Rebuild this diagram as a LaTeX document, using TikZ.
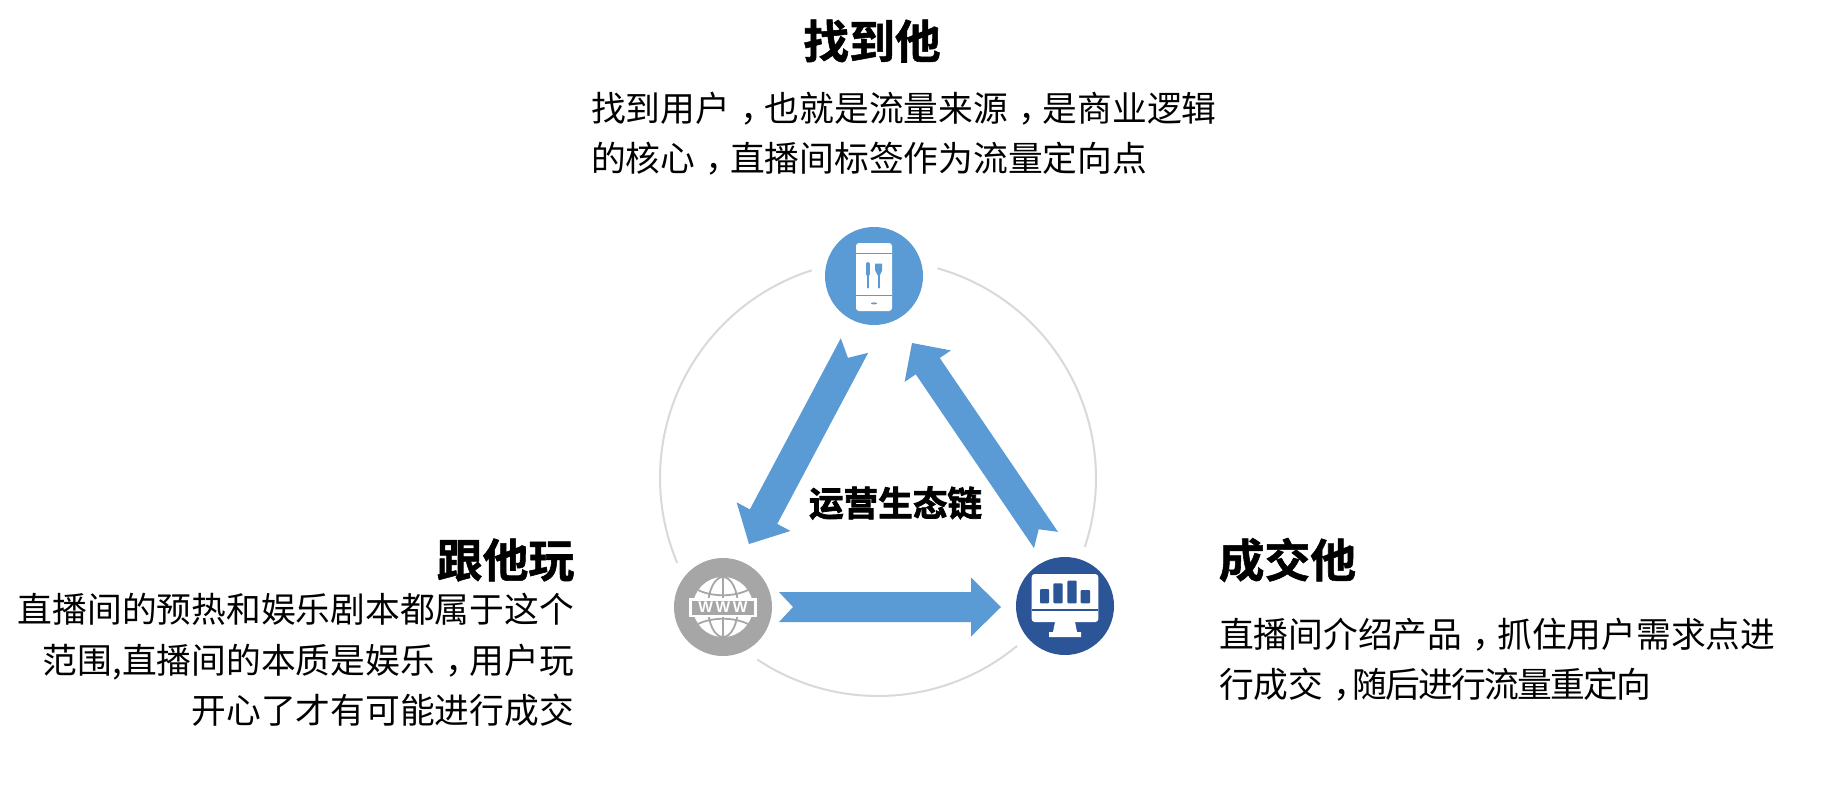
\documentclass[tikz,border=0pt]{standalone}
\usepackage{fontspec}
\usetikzlibrary{calc}
\setmainfont{Noto Sans CJK SC}
\newfontfamily\heavyfont[FakeBold=1.2]{Noto Sans CJK SC Bold}
\newfontfamily\blackfont[FakeBold=2.2]{Noto Sans CJK SC Bold}
\newfontfamily\wwwfont{Liberation Sans Bold}
\definecolor{arrowblue}{HTML}{5B9BD5}
\definecolor{deepblue}{HTML}{2B5597}
\definecolor{midgrey}{HTML}{A6A6A6}
\definecolor{ringgrey}{HTML}{D9D9D9}
\newcommand\fwcomma{\hspace{.3em}，\hspace{-.3em}}
\newcommand\slimcomma{\makebox[.84em][l]{\hspace{.3em}，}}
\newcommand\blockarrow[6]{%
  \fill[blockfill]
    ($(#1)!#3pt!90:(#2)$) -- ($(#1)!#6pt!(#2)$) -- ($(#1)!#3pt!-90:(#2)$)
    -- ($(#2)!#5pt!(#1)!#3pt!90:(#1)$) -- ($(#2)!#5pt!(#1)!#4pt!90:(#1)$)
    -- (#2)
    -- ($(#2)!#5pt!(#1)!#4pt!-90:(#1)$) -- ($(#2)!#5pt!(#1)!#3pt!-90:(#1)$)
    -- cycle;}
\tikzset{
  x=1pt,y=-1pt,
  blockfill/.style={fill=arrowblue},
  disc/.style={circle,minimum size=98pt,inner sep=0pt,fill=#1},
  ring/.style={ringgrey,line width=2pt},
  headtext/.style={inner sep=0pt,font=\heavyfont\fontsize{45.8}{50}\selectfont},
  bodytext/.style={inner sep=0pt,font=\fontsize{34.75}{50.3}\selectfont},
  iconline/.style={line width=#1,line cap=round},
}
\begin{document}
\begin{tikzpicture}
\useasboundingbox (0,0) rectangle (1831,796);
\fill[white] (0,0) rectangle (1831,796);
% ring
\coordinate (ringc) at (878,478);
\draw[ring] (ringc) ++(-74.2:218) arc[start angle=-74.2,end angle=18.4,radius=218];
\draw[ring] (ringc) ++(50.4:218) arc[start angle=50.4,end angle=123.6,radius=218];
\draw[ring] (ringc) ++(157.1:218) arc[start angle=157.1,end angle=252.3,radius=218];
% discs
\node[disc=arrowblue] (phone) at (874,276) {};
\node[disc=midgrey] (web) at (723,607) {};
\node[disc=deepblue] (screen) at (1065,606) {};
% block arrows
\coordinate (aTail) at (854.5,345.5);
\coordinate (aTip) at (749,544);
\coordinate (bTail) at (1046,540);
\coordinate (bTip) at (912,343);
\coordinate (cTail) at (779,607);
\coordinate (cTip) at (1001,607);
\blockarrow{aTail}{aTip}{15.5}{30.5}{31}{14}
\blockarrow{bTail}{bTip}{14.5}{28}{28}{13}
\blockarrow{cTail}{cTip}{15}{29.5}{30}{14}
% phone icon
\fill[white,rounded corners=3pt] (856,243) rectangle (892,311);
\draw[arrowblue,line width=1pt] (856,253) -- (892,253) (856,295) -- (892,295);
\fill[arrowblue] (874,303.4) ellipse [x radius=3,y radius=1];
\draw[arrowblue,iconline=2.4pt] (867.7,272) -- (867.7,287.5);
\draw[arrowblue,iconline=3.8pt] (867.7,264) -- (867.7,274);
\draw[arrowblue,iconline=2.4pt] (878.7,272) -- (878.7,287.5);
\fill[arrowblue] (875.2,263.5) -- (882.2,263.5) -- (882.2,270.5) -- (880,275) -- (877.4,275) -- (875.2,270.5) -- cycle;
% globe icon
\fill[white] (723,607) circle [radius=30];
\begin{scope}[midgrey,line width=1.8pt]
  \draw (723,577) -- (723,637);
  \draw (723,607) ellipse [x radius=15,y radius=30];
  \draw (698,590) .. controls (712,597) and (734,597) .. (748,590);
  \draw (698,624) .. controls (712,617) and (734,617) .. (748,624);
\end{scope}
\fill[white] (689,598) rectangle (757,617);
\fill[midgrey] (692,600.5) rectangle (754,614.5);
\node[inner sep=0pt,text=white,font=\wwwfont\fontsize{15.5}{15.5}\selectfont] (wwwlabel) at (723,607.5) {W\,W\,W};
% monitor icon
\fill[white,rounded corners=3pt] (1031.7,574) rectangle (1098.3,622);
\begin{scope}[deepblue]
  \fill[rounded corners=1pt] (1040,589) rectangle (1049,603.3);
  \fill[rounded corners=1pt] (1053.3,583.3) rectangle (1062.7,603.3);
  \fill[rounded corners=1pt] (1067.3,580.7) rectangle (1076.7,603.3);
  \fill[rounded corners=1pt] (1080.7,590) rectangle (1090,603.3);
  \fill (1031.7,609) rectangle (1098.3,611);
\end{scope}
\fill[white] (1055,622) -- (1075,622) -- (1077,632) -- (1081,632) -- (1081,637) -- (1049,637) -- (1049,632) -- (1053,632) -- cycle;
% texts
\node[headtext] (findT) at (872,41) {找到他};
\node[bodytext,anchor=west,align=left] (findB) at (591,134) {找到用户\fwcomma 也就是流量来源\fwcomma 是商业逻辑\\的核心\fwcomma 直播间标签作为流量定向点};
\node[headtext,anchor=east] (playT) at (574.5,560) {跟他玩};
\node[bodytext,anchor=east,align=right] (playB) at (574,660) {直播间的预热和娱乐剧本都属于这个\\范围,直播间的本质是娱乐\fwcomma 用户玩\\开心了才有可能进行成交};
\node[headtext,anchor=west] (dealT) at (1218.5,560) {成交他};
\node[bodytext,anchor=west,align=left] (dealB) at (1219,659.5) {直播间介绍产品\fwcomma 抓住用户需求点进\\行成交\slimcomma{\addfontfeature{LetterSpace=-5}随后进行流量重定向}};
\node[inner sep=0pt,font=\blackfont\fontsize{34.6}{36}\selectfont] (eco) at (895.5,503) {运营生态链};
\end{tikzpicture}
\end{document}
